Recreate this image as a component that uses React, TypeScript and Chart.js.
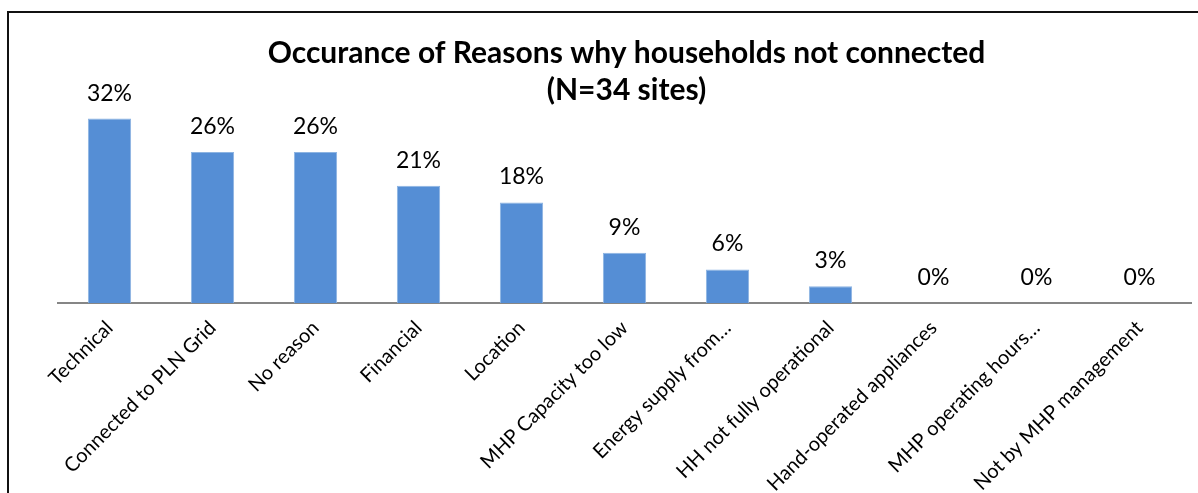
import React, { useEffect, useRef } from "react";
import { Chart, registerables } from "chart.js";

Chart.register(...registerables);

const categories = [
  "Technical",
  "Connected to PLN Grid",
  "No reason",
  "Financial",
  "Location",
  "MHP Capacity too low",
  "Energy supply from…",
  "HH not fully operational",
  "Hand-operated appliances",
  "MHP operating hours…",
  "Not by MHP management",
];

const percentValues = [32.35, 26.47, 26.47, 20.59, 17.65, 8.82, 5.88, 2.94, 0, 0, 0];

const titleLines = ["Occurance of Reasons why households not connected", "(N=34 sites)"];

const W = 1198;
const H = 560;
const AXIS_Y = 303;
const PLOT_LEFT = 58;
const PLOT_RIGHT = 1191;
const FONT = "Lato, 'Open Sans', sans-serif";

export default function App() {
  const ref = useRef<HTMLCanvasElement>(null);

  useEffect(() => {
    const canvas = ref.current;
    if (!canvas) return;

    const titlePlugin = {
      id: "titleLines",
      afterDraw(chart: any) {
        const { ctx, chartArea } = chart;
        ctx.save();
        ctx.font = `bold 30px ${FONT}`;
        ctx.fillStyle = "#000";
        ctx.textAlign = "center";
        ctx.textBaseline = "alphabetic";
        const cx = (chartArea.left + chartArea.right) / 2 + 2;
        ctx.fillText(titleLines[0], cx, 63);
        ctx.fillText(titleLines[1], cx, 100);
        ctx.restore();
      },
    };

    const valueLabelPlugin = {
      id: "valueLabels",
      afterDatasetsDraw(chart: any) {
        const { ctx } = chart;
        const meta = chart.getDatasetMeta(0);
        ctx.save();
        ctx.font = `23px ${FONT}`;
        ctx.fillStyle = "#000";
        ctx.textAlign = "center";
        ctx.textBaseline = "alphabetic";
        meta.data.forEach((bar: any, i: number) => {
          ctx.fillText(Math.round(percentValues[i]) + "%", bar.x, bar.y - 18);
        });
        ctx.restore();
      },
    };

    const chart = new Chart(canvas, {
      type: "bar",
      data: {
        labels: categories,
        datasets: [
          {
            data: percentValues,
            backgroundColor: "#558ED5",
            borderColor: "#8DB4E2",
            borderWidth: 1,
            categoryPercentage: 1,
            barPercentage: 0.42,
          },
        ],
      },
      options: {
        responsive: false,
        animation: false,
        layout: {
          padding: { left: PLOT_LEFT, right: W - PLOT_RIGHT, top: 75, bottom: 0 },
        },
        plugins: {
          legend: { display: false },
          tooltip: { enabled: false },
          title: { display: false },
        },
        scales: {
          x: {
            grid: { display: false, drawTicks: false },
            border: { display: true, color: "#868686", width: 2 },
            ticks: {
              maxRotation: 45,
              minRotation: 45,
              autoSkip: false,
              padding: 13,
              color: "#000",
              font: { family: FONT, size: 20 },
            },
            afterFit: (scale: any) => {
              scale.height = H - AXIS_Y;
            },
          },
          y: { display: false, min: 0, max: 40 },
        },
      },
      plugins: [titlePlugin, valueLabelPlugin],
    });

    return () => chart.destroy();
  }, []);

  return (
    <div style={{ position: "fixed", left: 0, top: 0, width: W, height: 493, overflow: "hidden", background: "#fff" }}>
      <canvas ref={ref} width={W} height={H} style={{ position: "absolute", left: 0, top: 0, width: W, height: H }} />
      <div
        style={{
          position: "absolute",
          left: 7,
          top: 11,
          width: 1300,
          height: 700,
          borderTop: "2px solid #111",
          borderLeft: "2px solid #111",
          pointerEvents: "none",
        }}
      />
    </div>
  );
}
